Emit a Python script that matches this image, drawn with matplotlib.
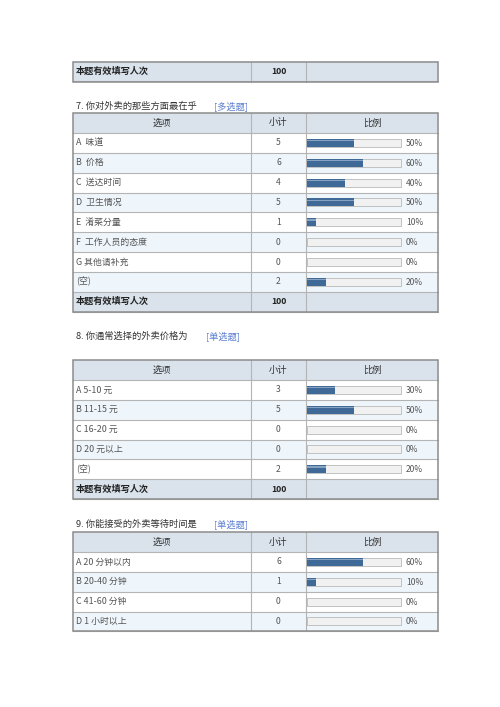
import matplotlib
matplotlib.use("Agg")
import matplotlib.pyplot as plt
from matplotlib.patches import Rectangle

plt.rcParams['font.family'] = ['Noto Sans CJK SC', 'DejaVu Sans']

# survey data
q7_title = "7. 你对外卖的那些方面最在乎"
q7_type = "[多选题]"
q7_options = ["A  味道", "B  价格", "C  送达时间", "D  卫生情况", "E  淆菜分量",
              "F  工作人员的态度", "G 其他请补充", "(空)"]
q7_counts = [5, 6, 4, 5, 1, 0, 0, 2]
q7_pcts = [50, 60, 40, 50, 10, 0, 0, 20]

q8_title = "8. 你通常选择的外卖价格为"
q8_type = "[单选题]"
q8_options = ["A 5-10 元", "B 11-15 元", "C 16-20 元", "D 20 元以上", "(空)"]
q8_counts = [3, 5, 0, 0, 2]
q8_pcts = [30, 50, 0, 0, 20]

q9_title = "9. 你能接受的外卖等待时间是"
q9_type = "[单选题]"
q9_options = ["A 20 分钟以内", "B 20-40 分钟", "C 41-60 分钟", "D 1 小时以上"]
q9_counts = [6, 1, 0, 0]
q9_pcts = [60, 10, 0, 0]

total_label = "本题有效填写人次"
total_value = 100
headers = ["选项", "小计", "比例"]

# layout (pixels)
X0, X1, X2, X3 = 73, 251, 306, 438
ROW_H = 19.85
HEAD_H = 20
TRACK_X, TRACK_W, BAR_H = 307, 94, 8

HEAD_BG = "#dae3ec"
ALT_BG = "#eef5fb"
GRID = "#b4b4b4"
EDGE = "#8c8c8c"
TXT = "#555555"
BAR = "#3f6a98"

fig = plt.figure(figsize=(5, 7.07), dpi=100)
ax = fig.add_axes([0, 0, 1, 1])
ax.set_xlim(0, 500)
ax.set_ylim(707, 0)
ax.axis("off")


def row_bg(y, h, color):
    ax.add_patch(Rectangle((X0, y), X3 - X0, h, facecolor=color, edgecolor="none", zorder=1))
    ax.plot([X0, X3], [y + h, y + h], color=GRID, lw=0.8, zorder=2)


def total_row(y):
    row_bg(y, ROW_H, HEAD_BG)
    ax.text(X0 + 3, y + ROW_H / 2, total_label, fontsize=6.6, fontweight="bold",
            color="#222222", va="center")
    ax.text((X1 + X2) / 2, y + ROW_H / 2, str(total_value), fontsize=6.2, fontweight="bold",
            color="#222222", va="center", ha="center")


def frame(top, bottom):
    for x in (X1, X2):
        ax.plot([x, x], [top, bottom], color=GRID, lw=0.8, zorder=2)
    ax.add_patch(Rectangle((X0, top), X3 - X0, bottom - top, facecolor="none",
                           edgecolor=EDGE, lw=1.1, zorder=3))


def question(title, qtype, type_x, title_y, top, options, counts, pcts, with_total=True):
    ax.text(X0 + 3, title_y, title, fontsize=6.7, color="#333333", va="center")
    ax.text(type_x, title_y, qtype, fontsize=6.7, color="#5b7fd1", va="center")

    # header
    row_bg(top, HEAD_H, HEAD_BG)
    centers = [(X0 + X1) / 2, (X1 + X2) / 2, (X2 + X3) / 2]
    for cx, h in zip(centers, headers):
        ax.text(cx, top + HEAD_H / 2, h, fontsize=6.7, color="#333333",
                ha="center", va="center")

    y = top + HEAD_H
    ys = []
    for i, (opt, c) in enumerate(zip(options, counts)):
        row_bg(y, ROW_H, "white" if i % 2 == 0 else ALT_BG)
        ax.text(X0 + 3, y + ROW_H / 2, opt, fontsize=6.4, color=TXT, va="center")
        ax.text(centers[1], y + ROW_H / 2, str(c), fontsize=6.2, color=TXT,
                ha="center", va="center")
        ys.append(y + ROW_H / 2)
        y += ROW_H

    # bars
    ax.barh(ys, [TRACK_W] * len(ys), left=TRACK_X, height=BAR_H, color="#f1f1f1",
            edgecolor="#b9b9b9", lw=0.6, zorder=4)
    widths = [p / 100 * TRACK_W for p in pcts]
    ax.barh(ys, widths, left=TRACK_X, height=BAR_H, color=BAR, edgecolor="none", zorder=5)
    ax.barh([v - BAR_H * 0.28 for v in ys], widths, left=TRACK_X, height=BAR_H * 0.16,
            color="#86a3c3", edgecolor="none", zorder=6)
    for v, p in zip(ys, pcts):
        ax.text(TRACK_X + TRACK_W + 5, v + 0.5, f"{p}%", fontsize=6.1, color=TXT, va="center")

    if with_total:
        total_row(y)
        y += ROW_H
    frame(top, y)


# leftover total row from previous question
total_row(61.5)
frame(61.5, 61.5 + ROW_H + 1)

question(q7_title, q7_type, 214, 106, 113, q7_options, q7_counts, q7_pcts)
question(q8_title, q8_type, 206, 336, 360, q8_options, q8_counts, q8_pcts)
question(q9_title, q9_type, 214, 524, 532, q9_options, q9_counts, q9_pcts, with_total=False)

fig.savefig("out.png", dpi=100, facecolor="white")
